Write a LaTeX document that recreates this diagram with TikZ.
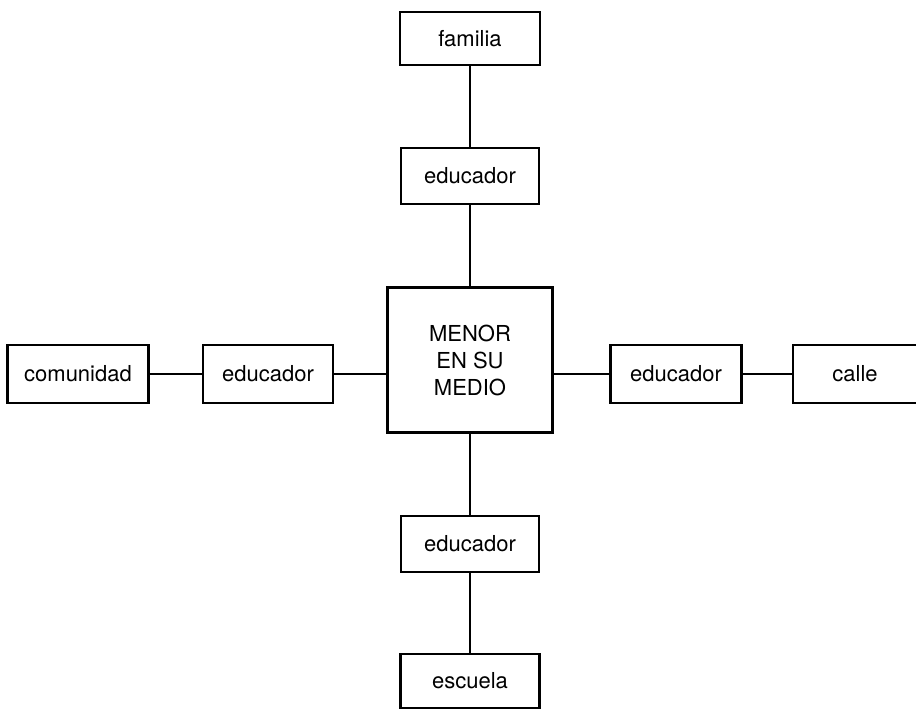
\documentclass[tikz,border=0pt]{standalone}
\usepackage{fontspec}
\setmainfont{TeX Gyre Heros}
\usepackage{tikz}
\tikzset{
    boxnode/.style  = {shape=rectangle, draw, align=center,
        line width=1.2pt, inner sep=0pt},
    place/.style    = {boxnode, minimum height=28pt},
    educ/.style     = {boxnode, minimum width=69pt, minimum height=28pt},
    menor/.style    = {boxnode, minimum width=82.5pt, minimum height=72.5pt},
    link/.style     = {draw, line width=1.4pt}
}

\begin{document}
\begin{tikzpicture}
            [
            x                 = 0.5pt,
            y                 = -0.5pt,
            every node/.style = {font=\fontsize{11}{13.5}\selectfont}
            ]
            \useasboundingbox (0,0) rectangle (916,709);
            \node[menor] (menor) at (470,360) {MENOR\\EN SU\\MEDIO};
            % vertical branch
            \node[place, minimum width=70pt, minimum height=26.5pt] (familia) at (470,38.5) {familia};
            \node[educ] (edtop) at (470,176) {educador};
            \node[educ] (edbottom) at (470,544) {educador};
            \node[place, minimum width=69.5pt, minimum height=27pt] (escuela) at (470,681) {escuela};
            % horizontal branch
            \node[place, minimum width=70.5pt, minimum height=29pt] (comunidad) at (78,374) {comunidad};
            \node[educ, minimum width=65pt, minimum height=29pt] (edleft) at (268,374) {educador};
            \node[educ, minimum width=65.5pt, minimum height=29pt] (edright) at (676,374) {educador};
            \node[place, minimum width=72pt, minimum height=29pt] (calle) at (865,374) {};
            \node (calletext) at (855,374) {calle};

            \draw[link] (familia) -- (edtop);
            \draw[link] (edtop) -- (menor);
            \draw[link] (menor) -- (edbottom);
            \draw[link] (edbottom) -- (escuela);
            \draw[link] (comunidad) -- (edleft);
            \draw[link] (edleft) -- (edleft -| menor.west);
            \draw[link] (menor.east |- edright) -- (edright);
            \draw[link] (edright) -- (calle);
\end{tikzpicture}
\end{document}
